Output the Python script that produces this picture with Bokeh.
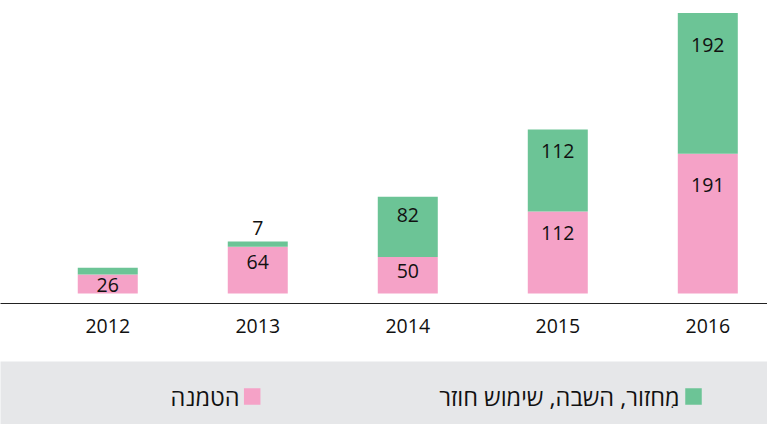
from bokeh.plotting import figure
from bokeh.models import Range1d, FixedTicker, ColumnDataSource
from bokeh.layouts import column
from bokeh.core.properties import value
from bokeh.embed import file_html
from bokeh.resources import INLINE

# ---- data ----
years = ["2012", "2013", "2014", "2015", "2016"]
landfill = [26, 64, 50, 112, 191]          # הטמנה
recycling = [9, 7, 82, 112, 192]           # מחזור, השבה, שימוש חוזר
landfill_labels = ["26", "64", "50", "112", "191"]
recycling_labels = ["", "7", "82", "112", "192"]
series_names = ["מִחזור, השבה, שימוש חוזר", "הטמנה"]

PINK = "#f5a2c7"
GREEN = "#6cc496"
BAND = "#e6e7e9"
FONT = "Open Sans"

W = 767
MAIN_H = 361
LEG_H = 63
PX = 0.7322  # pixels per unit (for label placement rule)


def label_y(bottom, top):
    seg_px = (top - bottom) * PX
    if seg_px < 15:
        return top + 13.5 / PX
    return top - (7.7 + 0.17 * seg_px) / PX


xs = list(range(len(years)))
pink_top = landfill
green_bottom = landfill
green_top = [a + b for a, b in zip(landfill, recycling)]

src = ColumnDataSource(dict(
    x=xs,
    zero=[0] * len(xs),
    pink_top=pink_top,
    green_bottom=green_bottom,
    green_top=green_top,
    pink_label=landfill_labels,
    green_label=recycling_labels,
    pink_ly=[label_y(0, t) for t in pink_top],
    green_ly=[label_y(b, t) for b, t in zip(green_bottom, green_top)],
))

p = figure(width=W, height=MAIN_H,
           x_range=Range1d(-0.715, 4.398), y_range=Range1d(-13.66, 400.2),
           output_backend="svg", toolbar_location=None,
           y_axis_location=None,
           min_border_left=0, min_border_right=0, min_border_top=0,
           min_border_bottom=58)
p.grid.visible = False
p.outline_line_color = None

p.vbar(x="x", width=0.4, bottom="zero", top="pink_top", source=src,
       fill_color=PINK, line_color=None)
p.vbar(x="x", width=0.4, bottom="green_bottom", top="green_top", source=src,
       fill_color=GREEN, line_color=None)

for col, ly in (("pink_label", "pink_ly"), ("green_label", "green_ly")):
    p.text(x="x", y=ly, text=col, source=src,
           text_font=value(FONT), text_font_size="19.5px",
           text_color="#111111", text_align="center", text_baseline="middle")

ax = p.xaxis[0]
ax.ticker = FixedTicker(ticks=xs)
ax.major_label_overrides = {i: y for i, y in zip(xs, years)}
ax.major_tick_line_color = None
ax.minor_tick_line_color = None
ax.axis_line_color = "#222222"
ax.axis_line_width = 1
ax.major_label_text_font = FONT
ax.major_label_text_font_size = "19.5px"
ax.major_label_text_color = "#111111"
ax.major_label_standoff = 9

# ---- legend band ----
leg = figure(width=W, height=LEG_H,
             x_range=Range1d(0, W), y_range=Range1d(LEG_H, 0),
             output_backend="svg", toolbar_location=None,
             x_axis_location=None, y_axis_location=None,
             min_border_left=0, min_border_right=0, min_border_top=0,
             min_border_bottom=0)
leg.grid.visible = False
leg.outline_line_color = None
leg.background_fill_color = BAND
leg.border_fill_color = BAND

sq_x = [693.0, 251.7]
txt_x = [679.0, 239.0]
row_y = [35, 35]
leg_src = ColumnDataSource(dict(sx=sq_x, tx=txt_x, y=row_y,
                                color=[GREEN, PINK], name=series_names))
leg.rect(x="sx", y="y", width=16.5, height=16.5, width_units="screen",
         height_units="screen", fill_color="color", line_color=None,
         source=leg_src)
leg.text(x="tx", y="y", text="name", source=leg_src,
         text_font=value(FONT), text_font_size="23.5px", text_color="#111111",
         text_align="right", text_baseline="middle")

layout = column(p, leg, spacing=0)
open("out.html", "w").write(file_html(layout, INLINE))
